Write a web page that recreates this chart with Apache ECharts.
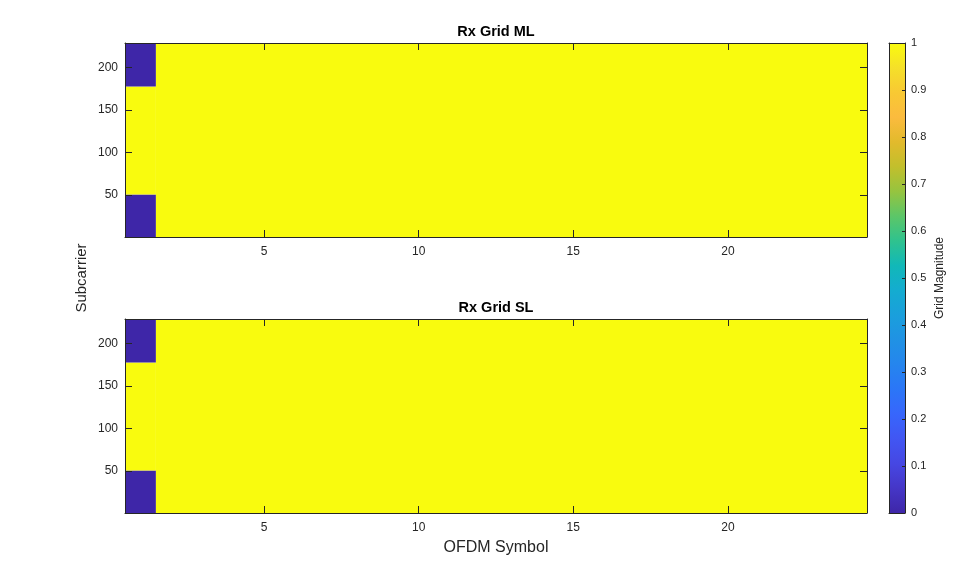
<!DOCTYPE html>
<html>
<head>
<meta charset="utf-8">
<title>Rx Grid</title>
<script src="https://cdn.jsdelivr.net/npm/echarts@6/dist/echarts.min.js"></script>
<style>
  html, body { margin: 0; padding: 0; background: #fff; }
  #main { width: 959px; height: 577px; }
</style>
</head>
<body>
<div id="main"></div>
<script>
// resource grid blocks: [firstSymbol, lastSymbol, firstSubcarrier, lastSubcarrier, magnitude]
var gridML = [
    [1, 1, 1, 50, 0],
    [1, 1, 51, 177, 1],
    [1, 1, 178, 228, 0],
    [2, 24, 1, 228, 1]
];
var gridSL = [
    [1, 1, 1, 50, 0],
    [1, 1, 51, 177, 1],
    [1, 1, 178, 228, 0],
    [2, 24, 1, 228, 1]
];
var symbolCount = 24;
var subcarrierCount = 228;
var xTicks = [5, 10, 15, 20];
var yTicks = [50, 100, 150, 200];
var colorRange = [0, 1];
var cbarTicks = [0, 0.1, 0.2, 0.3, 0.4, 0.5, 0.6, 0.7, 0.8, 0.9, 1];

// parula-like colormap
var parula = ['#3e26a8', '#4536c7', '#4647e3', '#4156f3', '#3766fc', '#2b76f7', '#2585ee',
    '#2092e4', '#1a9fdc', '#14acd0', '#11b8b8', '#2fc28e', '#5cc668', '#96c43f', '#c2bf2c',
    '#e2ba2c', '#fbbb3e', '#f8c933', '#f5e029', '#f9fb0e'];

var axisColor = '#262626';
var font = 'Liberation Sans, Arial, sans-serif';

var myChart = echarts.init(document.getElementById('main'));

function gridAxis(gridIndex, position, min, max, ticks, showLabels) {
    return {
        type: 'value',
        gridIndex: gridIndex,
        position: position,
        min: min,
        max: max,
        z: 10,
        axisLine: { show: true, onZero: false, lineStyle: { color: axisColor, width: 1 } },
        axisTick: { show: true, inside: true, length: 7, customValues: ticks, lineStyle: { color: axisColor } },
        axisLabel: { show: showLabels, customValues: ticks, color: axisColor, fontFamily: font, fontSize: 12, margin: position === 'bottom' ? 9 : 7 },
        splitLine: { show: false }
    };
}

function renderBlock(params, api) {
    var p0 = api.coord([api.value(0) - 0.5, api.value(3) + 0.5]);
    var p1 = api.coord([api.value(1) + 0.5, api.value(2) - 0.5]);
    return {
        type: 'rect',
        shape: { x: p0[0], y: p0[1], width: p1[0] - p0[0], height: p1[1] - p0[1] },
        style: { fill: api.visual('color') }
    };
}

// colorbar: one rect spanning the colour range, filled with the colormap
function renderColorbar(params, api) {
    var p0 = api.coord([0, api.value(1)]);
    var p1 = api.coord([1, api.value(0)]);
    var stops = parula.map(function (c, i) {
        return { offset: i / (parula.length - 1), color: c };
    });
    return {
        type: 'rect',
        shape: { x: p0[0], y: p0[1], width: p1[0] - p0[0], height: p1[1] - p0[1] },
        style: { fill: new echarts.graphic.LinearGradient(0, 1, 0, 0, stops) }
    };
}

var xMax = symbolCount + 0.5;
var yMax = subcarrierCount + 0.5;

var xOFDM = gridAxis(1, 'bottom', 0.5, xMax, xTicks, true);
xOFDM.name = 'OFDM Symbol';
xOFDM.nameLocation = 'middle';
xOFDM.nameGap = 27;
xOFDM.nameTextStyle = { color: axisColor, fontFamily: font, fontSize: 16 };

var cbarY = {
    type: 'value', gridIndex: 2, position: 'right', min: 0, max: 1, z: 10,
    axisLine: { show: true, onZero: false, lineStyle: { color: axisColor, width: 1 } },
    axisTick: { show: true, inside: true, length: 3, customValues: cbarTicks, lineStyle: { color: axisColor } },
    axisLabel: { customValues: cbarTicks, color: axisColor, fontFamily: font, fontSize: 11, margin: 6 },
    splitLine: { show: false },
    name: 'Grid Magnitude',
    nameLocation: 'middle',
    nameRotate: 90,
    nameGap: 29,
    nameTextStyle: { color: axisColor, fontFamily: font, fontSize: 12 }
};
function cbarLine(position) {
    return {
        type: 'value', gridIndex: 2, position: position, min: 0, max: 1, z: 10,
        axisLine: { show: true, onZero: false, lineStyle: { color: axisColor, width: 1 } },
        axisTick: { show: false }, axisLabel: { show: false }, splitLine: { show: false }
    };
}

var titleStyle = { color: '#000', fontFamily: font, fontSize: 14.5, fontWeight: 'bold' };

var option = {
    animation: false,
    backgroundColor: '#fff',
    title: [
        { text: 'Rx Grid ML', left: 496, top: 24, padding: 0, textAlign: 'center', textStyle: titleStyle },
        { text: 'Rx Grid SL', left: 496, top: 300, padding: 0, textAlign: 'center', textStyle: titleStyle }
    ],
    graphic: [{
        type: 'text', x: 82, y: 278, rotation: Math.PI / 2,
        style: { text: 'Subcarrier', fill: axisColor, font: '15px ' + font, textAlign: 'center', textVerticalAlign: 'middle' }
    }],
    grid: [
        { left: 125, top: 43, width: 742, height: 194 },
        { left: 125, top: 319, width: 742, height: 194 },
        { left: 889, top: 43, width: 16, height: 470 }
    ],
    xAxis: [
        gridAxis(0, 'bottom', 0.5, xMax, xTicks, true),
        gridAxis(0, 'top', 0.5, xMax, xTicks, false),
        xOFDM,
        gridAxis(1, 'top', 0.5, xMax, xTicks, false),
        cbarLine('bottom'),
        cbarLine('top')
    ],
    yAxis: [
        gridAxis(0, 'left', 0.5, yMax, yTicks, true),
        gridAxis(0, 'right', 0.5, yMax, yTicks, false),
        gridAxis(1, 'left', 0.5, yMax, yTicks, true),
        gridAxis(1, 'right', 0.5, yMax, yTicks, false),
        cbarY,
        cbarLine('left')
    ],
    visualMap: {
        type: 'continuous',
        show: false,
        min: colorRange[0],
        max: colorRange[1],
        dimension: 4,
        seriesIndex: [0, 1],
        inRange: { color: parula }
    },
    series: [
        {
            name: 'Rx Grid ML', type: 'custom', xAxisIndex: 0, yAxisIndex: 0,
            renderItem: renderBlock, encode: { x: [0, 1], y: [2, 3] }, clip: true,
            data: gridML
        },
        {
            name: 'Rx Grid SL', type: 'custom', xAxisIndex: 2, yAxisIndex: 2,
            renderItem: renderBlock, encode: { x: [0, 1], y: [2, 3] }, clip: true,
            data: gridSL
        },
        {
            name: 'Colorbar', type: 'custom', xAxisIndex: 4, yAxisIndex: 4,
            renderItem: renderColorbar, encode: { y: [0, 1] },
            data: [colorRange]
        }
    ]
};

myChart.setOption(option);
</script>
</body>
</html>
